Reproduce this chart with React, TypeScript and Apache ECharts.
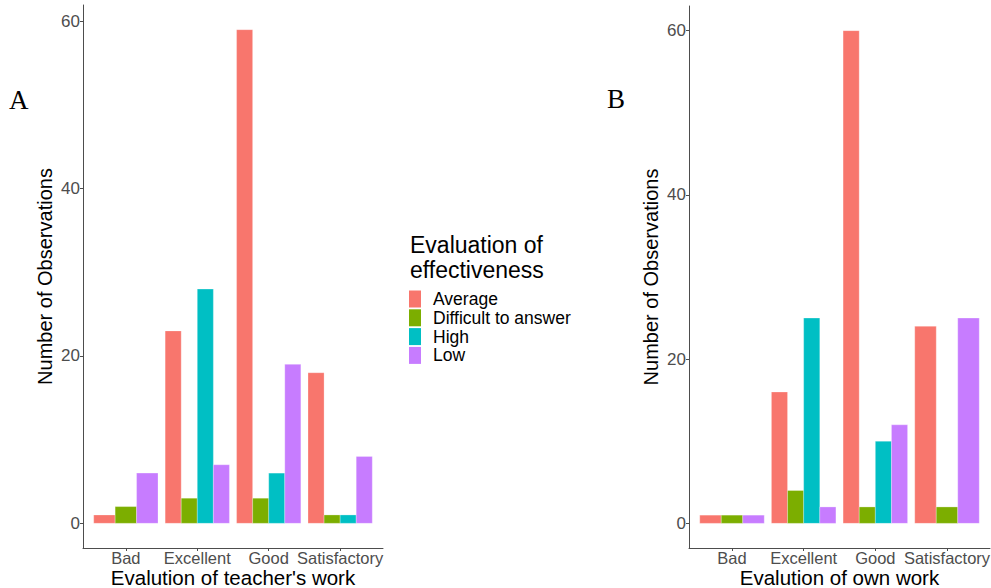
import React, { useEffect, useRef } from "react";
import * as echarts from "echarts";

const categories = ["Bad", "Excellent", "Good", "Satisfactory"];
const groups = ["Average", "Difficult to answer", "High", "Low"];
const colors = ["#F8766D", "#7CAE00", "#00BFC4", "#C77CFF"];

// Panel A: Evaluation of teacher's work (null = no bar)
const teacherAverage = [1, 23, 59, 18];
const teacherDifficult = [2, 3, 3, 1];
const teacherHigh = [null, 28, 6, 1];
const teacherLow = [6, 7, 19, 8];

// Panel B: Evaluation of own work
const ownAverage = [1, 16, 60, 24];
const ownDifficult = [1, 4, 2, 2];
const ownHigh = [null, 25, 10, null];
const ownLow = [1, 2, 12, 25];

const yTicks = [0, 20, 40, 60];
const FONT = "'Liberation Sans', Arial, sans-serif";

type Val = number | null;

function buildSeries(panel: Val[][], gridIdx: number) {
  return groups.map((g, gi) => {
    const data: number[][] = [];
    categories.forEach((_, ci) => {
      const present = panel.map((arr) => arr[ci] !== null && arr[ci] !== undefined);
      const count = present.filter(Boolean).length;
      if (!present[gi]) return;
      let slot = 0;
      for (let k = 0; k < gi; k++) if (present[k]) slot++;
      data.push([ci + 1, panel[gi][ci] as number, slot, count]);
    });
    return {
      type: "custom",
      name: g,
      xAxisIndex: gridIdx,
      yAxisIndex: gridIdx,
      itemStyle: { color: colors[gi] },
      encode: { x: 0, y: 1 },
      data,
      renderItem: (params: any, api: any) => {
        const x = api.value(0);
        const y = api.value(1);
        const slot = api.value(2);
        const count = api.value(3);
        const w = 0.9 / count;
        const x0 = x - 0.45 + slot * w;
        const p0 = api.coord([x0, 0]);
        const p1 = api.coord([x0 + w, y]);
        return {
          type: "rect",
          shape: { x: p0[0], y: p1[1], width: p1[0] - p0[0], height: p0[1] - p1[1] },
          style: { fill: colors[gi], stroke: "rgba(255,255,255,0.45)", lineWidth: 0.6 },
        };
      },
    };
  });
}

function xAxis(gridIndex: number, name: string) {
  return {
    type: "value",
    gridIndex,
    min: 0.4,
    max: 4.6,
    splitLine: { show: false },
    axisLine: { show: true, onZero: false, lineStyle: { color: "#4d4d4d", width: 1 } },
    axisTick: { show: true, customValues: [1, 2, 3, 4], length: 3, lineStyle: { color: "#4d4d4d" } },
    axisLabel: {
      customValues: [1, 2, 3, 4],
      formatter: (v: number) => categories[Math.round(v) - 1] || "",
      fontSize: 16.5,
      lineHeight: 16,
      color: "#4d4d4d",
      fontFamily: FONT,
      margin: 2,
    },
    name,
    nameLocation: "middle",
    nameGap: 19,
    nameMoveOverlap: false,
    nameTextStyle: { fontSize: 20.5, lineHeight: 20, color: "#000", fontFamily: FONT },
  };
}

function yAxis(gridIndex: number, min: number, max: number) {
  return {
    type: "value",
    gridIndex,
    min,
    max,
    splitLine: { show: false },
    axisLine: { show: true, onZero: false, lineStyle: { color: "#4d4d4d", width: 1 } },
    axisTick: { show: true, customValues: yTicks, length: 3, lineStyle: { color: "#4d4d4d" } },
    axisLabel: {
      customValues: yTicks,
      fontSize: 17,
      color: "#4d4d4d",
      fontFamily: FONT,
      margin: 3,
    },
    name: "Number of Observations",
    nameLocation: "middle",
    nameGap: 28,
    nameMoveOverlap: false,
    nameTextStyle: { fontSize: 20, color: "#000", fontFamily: FONT },
  };
}

export default function App() {
  const ref = useRef<HTMLDivElement>(null);
  useEffect(() => {
    if (!ref.current) return;
    const chart = echarts.init(ref.current, null, { renderer: "svg" });
    const panelA: Val[][] = [teacherAverage, teacherDifficult, teacherHigh, teacherLow];
    const panelB: Val[][] = [ownAverage, ownDifficult, ownHigh, ownLow];
    chart.setOption({
      animation: false,
      backgroundColor: "#fff",
      grid: [
        { left: 83, top: 5, width: 300, height: 543, outerBoundsMode: "none", containLabel: false },
        { left: 689, top: 6, width: 301, height: 542, outerBoundsMode: "none", containLabel: false },
      ],
      xAxis: [xAxis(0, "Evalution of teacher's work"), xAxis(1, "Evalution of own work")],
      yAxis: [yAxis(0, -2.95, 61.95), yAxis(1, -3, 63)],
      legend: {
        data: groups,
        orient: "vertical",
        left: 409,
        top: 290,
        itemWidth: 12,
        itemHeight: 17,
        itemGap: 0.8,
        icon: "rect",
        padding: 0,
        selectedMode: false,
        textStyle: { fontSize: 17.5, lineHeight: 16, color: "#000", fontFamily: FONT, padding: [0, 0, 0, 7] },
      },
      graphic: [
        {
          type: "text",
          x: 410,
          y: 232,
          style: {
            text: "Evaluation of\neffectiveness",
            fontSize: 23,
            lineHeight: 25,
            fontFamily: FONT,
            fill: "#000",
          },
        },
        {
          type: "text",
          x: 9,
          y: 100,
          style: { text: "A", fontSize: 27, fontFamily: "'Liberation Serif', serif", fill: "#000", verticalAlign: "middle" },
        },
        {
          type: "text",
          x: 607,
          y: 99,
          style: { text: "B", fontSize: 27, fontFamily: "'Liberation Serif', serif", fill: "#000", verticalAlign: "middle" },
        },
      ],
      series: [...buildSeries(panelA, 0), ...buildSeries(panelB, 1)],
    });
    return () => chart.dispose();
  }, []);
  return (
    <div
      ref={ref}
      style={{ position: "fixed", left: 0, top: 0, width: 991, height: 588, background: "#fff" }}
    />
  );
}
